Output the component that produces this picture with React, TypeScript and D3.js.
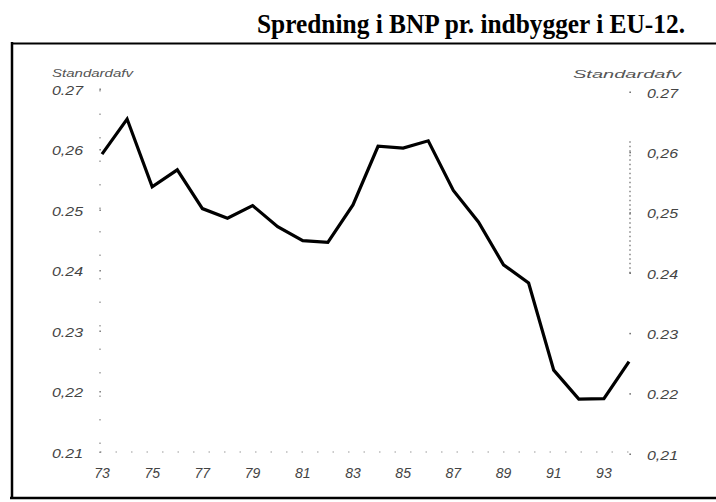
import React from "react";
import * as d3 from "d3";

const TITLE = "Spredning i BNP pr. indbygger i EU-12.";
const AXIS_NAME = "Standardafv";
const years = [1973, 1974, 1975, 1976, 1977, 1978, 1979, 1980, 1981, 1982, 1983, 1984, 1985, 1986, 1987, 1988, 1989, 1990, 1991, 1992, 1993, 1994];
const values = [0.2594, 0.2652, 0.254, 0.2568, 0.2504, 0.2488, 0.2509, 0.2474, 0.2451, 0.2448, 0.251, 0.2607, 0.2604, 0.2616, 0.2534, 0.2482, 0.2411, 0.2381, 0.2237, 0.2189, 0.219, 0.2251];
const yTicks = [0.27, 0.26, 0.25, 0.24, 0.23, 0.22, 0.21];
const leftTickLabels = ["0.27", "0,26", "0.25", "0.24", "0.23", "0,22", "0.21"];
const rightTickLabels = ["0.27", "0,26", "0,25", "0.24", "0.23", "0.22", "0,21"];
const xTickYears = [1973, 1975, 1977, 1979, 1981, 1983, 1985, 1987, 1989, 1991, 1993];
const xTickLabels = ["73", "75", "77", "79", "81", "83", "85", "87", "89", "91", "93"];

export default function App() {
  const W = 716, H = 502;
  const x = d3.scaleLinear().domain([1973, 1994]).range([102, 629]);
  const y = d3.scaleLinear().domain([0.21, 0.27]).range([453, 90]);
  const yR = d3.scaleLinear().domain([0.21, 0.27]).range([455, 93]);
  const line = d3.line<number>().x((_, i) => x(years[i])).y((d) => y(d));
  const path = line(values) || "";
  const labelFont = "'Liberation Sans', Arial, sans-serif";

  return (
    <svg width={W} height={H} style={{ position: "absolute", left: 0, top: 0, background: "#fff" }}>
      <rect x={0} y={0} width={W} height={H} fill="#fff" />
      {/* Title */}
      <text x={257} y={33} fontFamily="'Liberation Serif', 'Times New Roman', serif" fontWeight="bold" fontSize={27}
        textLength={428} lengthAdjust="spacingAndGlyphs" fill="#000">{TITLE}</text>
      {/* Frame */}
      <line x1={12} x2={716} y1={43.5} y2={43.5} stroke="#000" strokeWidth={2.2} />
      <line x1={12} x2={12} y1={42} y2={499} stroke="#000" strokeWidth={2.5} />
      <line x1={10} x2={716} y1={498} y2={498} stroke="#000" strokeWidth={2.5} />

      {/* Axis titles */}
      <text x={52} y={77} fontFamily={labelFont} fontStyle="italic" fontSize={11} fill="#555"
        textLength={81} lengthAdjust="spacingAndGlyphs">{AXIS_NAME}</text>
      <text x={573} y={78} fontFamily={labelFont} fontStyle="italic" fontSize={11} fill="#555"
        textLength={108} lengthAdjust="spacingAndGlyphs">{AXIS_NAME}</text>

      {/* Left axis dotted */}
      <line x1={100} x2={100} y1={y(0.27)} y2={y(0.21)} stroke="#888" strokeWidth={1.2} strokeDasharray="1.5,22" />
      {/* Right axis dotted */}
      <line x1={630} x2={630} y1={yR(0.262)} y2={yR(0.24)} stroke="#666" strokeWidth={1.2} strokeDasharray="1.5,3" />
      {yTicks.map((t) => (
        <rect key={"rt" + t} x={629.4} y={yR(t) - 1.5} width={1.5} height={1.5} fill="#666" />
      ))}
      {yTicks.map((t) => (
        <rect key={"lt" + t} x={99.4} y={y(t) - 1.5} width={1.5} height={1.5} fill="#777" />
      ))}
      {/* Bottom dotted */}
      <line x1={100} x2={630} y1={452} y2={452} stroke="#999" strokeWidth={1.2} strokeDasharray="1.5,14" />

      {/* Left tick labels */}
      {yTicks.map((t, i) => (
        <text key={"l" + t} x={52} y={y(t)} dy="0.35em" fontFamily={labelFont} fontStyle="italic" fontSize={13}
          fill="#444" textLength={31} lengthAdjust="spacingAndGlyphs">{leftTickLabels[i]}</text>
      ))}
      {/* Right tick labels */}
      {yTicks.map((t, i) => (
        <text key={"r" + t} x={647} y={yR(t)} dy="0.35em" fontFamily={labelFont} fontStyle="italic" fontSize={13}
          fill="#444" textLength={31} lengthAdjust="spacingAndGlyphs">{rightTickLabels[i]}</text>
      ))}
      {/* X labels */}
      {xTickYears.map((t, i) => (
        <text key={"x" + t} x={x(t)} y={478} textAnchor="middle" fontFamily={labelFont} fontStyle="italic"
          fontSize={14} fill="#444">{xTickLabels[i]}</text>
      ))}

      {/* Data line */}
      <path d={path} fill="none" stroke="#000" strokeWidth={3.2} strokeLinejoin="miter" />
    </svg>
  );
}
